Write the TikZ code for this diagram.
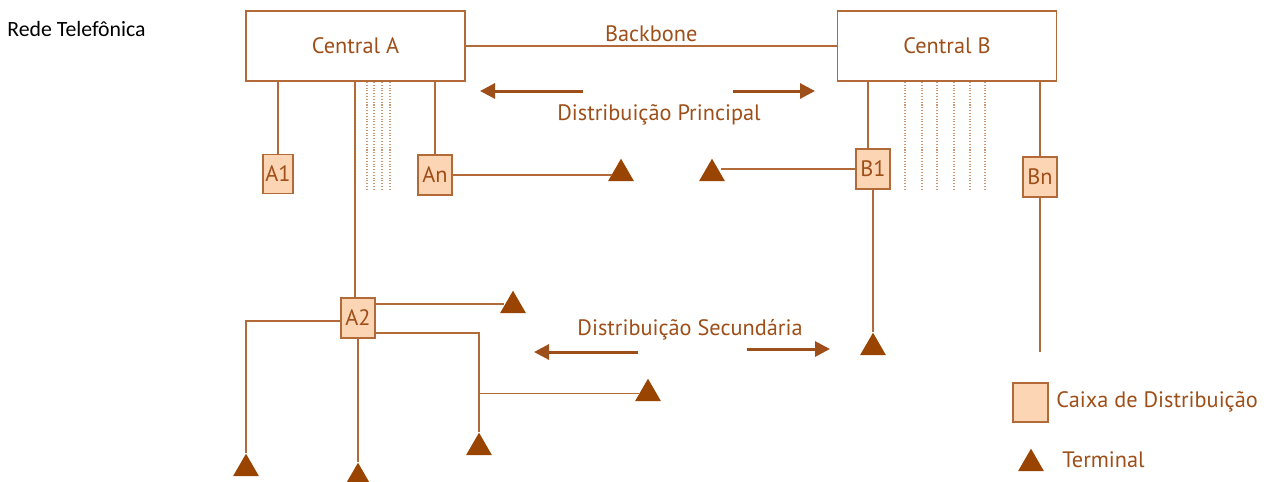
\documentclass[tikz,border=0pt]{standalone}
\usepackage{fontspec}
\setmainfont{PT Sans}
\newfontfamily\notefont{Carlito}
\usetikzlibrary{positioning,arrows.meta,shapes.geometric}
\definecolor{brn}{RGB}{158,78,24}
\definecolor{wire}{RGB}{178,106,56}
\definecolor{peach}{RGB}{252,213,180}
\definecolor{tfill}{RGB}{153,68,0}
\definecolor{dotc}{RGB}{205,150,110}

\begin{document}
\begin{tikzpicture}[x=0.02cm,y=-0.02cm,
  font=\fontsize{12.7}{15}\selectfont,
  wire/.style={draw=wire,line width=0.8pt},
  central/.style={draw=wire,line width=0.9pt,minimum width=4.38cm,minimum height=1.4cm,text=brn},
  caixa/.style={draw=wire,line width=0.9pt,fill=peach,minimum width=0.68cm,minimum height=0.8cm,inner sep=0pt,text=brn},
  term/.style={regular polygon,regular polygon sides=3,fill=tfill,minimum size=0.6cm,inner sep=0pt,anchor=corner 1},
  lbl/.style={text=brn,inner sep=0pt},
  flow/.style={draw=brn,line width=1.7pt,-{Triangle[length=0.3cm,width=0.3cm]}},
  dots/.style={draw=dotc,line width=0.6pt,densely dotted}]
\useasboundingbox (0,0) rectangle (1273,481);
\node[anchor=west,inner sep=0pt,font=\notefont\fontsize{12.4}{14}\selectfont] (title) at (7,29) {Rede Telefônica};
% centrais e backbone
\node[central] (CA) at (355.5,46) {Central A};
\node[central] (CB) at (947,46) {Central B};
\draw[wire] (CA) -- (CB) node[midway,above,lbl,yshift=2pt] (bb) {Backbone};
% caixas de distribuicao
\node[caixa,minimum width=0.6cm,minimum height=0.78cm,text depth=-3pt] (A1) at (278,174) {A1};
\node[caixa,text depth=-3pt] (An) at (435,175) {An};
\node[caixa,text depth=-3pt] (A2) at (358,318) {A2};
\node[caixa,text depth=-3pt] (B1) at (873,169) {B1};
\node[caixa,text depth=-3pt] (Bn) at (1040,177) {Bn};
\draw[wire] (CA.south -| A1.north) -- (A1.north);
\draw[wire] (CA.south -| An.north) -- (An.north);
\draw[wire] ([xshift=-0.06cm]CA.south -| A2.north) -- ([xshift=-0.06cm]A2.north);
\draw[wire] ([xshift=-0.1cm]CB.south -| B1.north) -- ([xshift=-0.1cm]B1.north);
\draw[wire] (CB.south -| Bn.north) -- (Bn.north);
% pares nao usados
\foreach \x in {367,374,382,390} {\draw[dots] (\x,82) -- (\x,190);}
\foreach \x in {905,922,937,954,970,985} {\draw[dots] (\x,82) -- (\x,189);}
% terminais
\node[term] (tAn) at (621,158) {};
\node[term] (tB1) at (712,158) {};
\node[term] (tA2r) at (513,290) {};
\node[term] (tA2l) at (246,453) {};
\node[term] (tA2b) at (358,462) {};
\node[term] (tA2d) at (479,432) {};
\node[term] (tA2e) at (648,378) {};
\node[term] (tB1b) at (873,332) {};
\coordinate (BnEnd) at (1040,352);
\draw[wire] (An.east) -- (An.east -| tAn.west);
\draw[wire] (B1.west) -- (B1.west -| tB1.east);
\draw[wire] ([yshift=0.28cm]A2.east) -- ([yshift=0.28cm]A2.east -| tA2r.west);
\draw[wire] ([yshift=-0.06cm]A2.west) -| (tA2l.corner 1);
\draw[wire] (A2.south) -- (tA2b.corner 1);
\draw[wire] ([yshift=-0.3cm]A2.east) -| (tA2d.corner 1);
\draw[wire] (tA2d.corner 1 |- tA2e.west) -- (tA2e.west);
\draw[wire] (B1.south) -- (tB1b.corner 1);
\draw[wire] (Bn.south) -- (BnEnd);
% distribuicao
\node[lbl] (dp) at (659,115) {Distribuição Principal};
\draw[flow] (583,91) -- (480,91);
\draw[flow] (733,91) -- (815,91);
\node[lbl] (ds) at (690,330) {Distribuição Secundária};
\draw[flow] (638,352) -- (534,352);
\draw[flow] (747,349) -- (830,349);
% legenda
\node[caixa,minimum width=0.7cm,minimum height=0.78cm] (lgbox) at (1030.5,402.5) {};
\node[lbl,anchor=west] (lgboxtxt) at (1056,402) {Caixa de Distribuição};
\node[term] (lgterm) at (1031,448) {};
\node[lbl,anchor=west] (lgtermtxt) at (1062,460) {Terminal};
\end{tikzpicture}
\end{document}
